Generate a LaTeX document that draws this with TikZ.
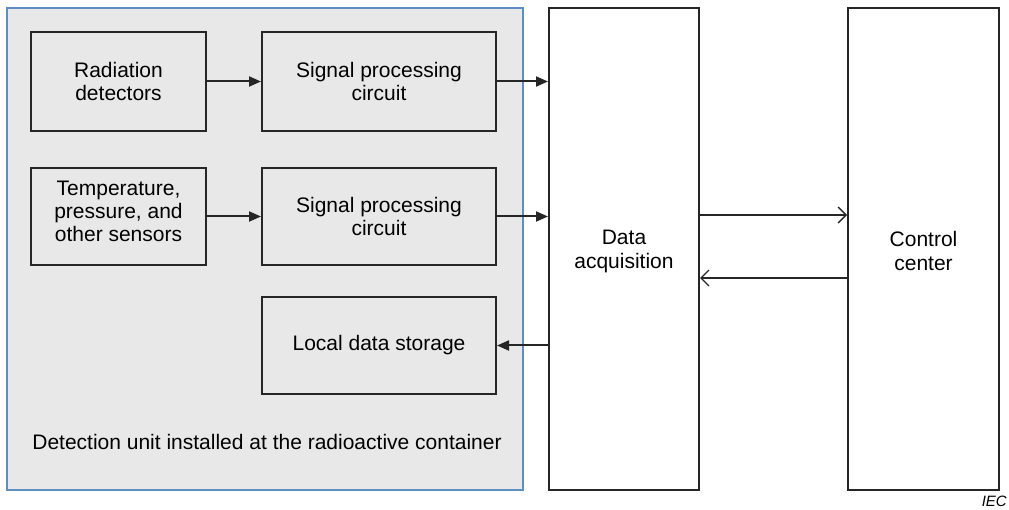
\documentclass[tikz,border=0pt]{standalone}
\usepackage{fontspec}
\setmainfont{Liberation Sans}
\usetikzlibrary{arrows.meta}
\definecolor{unitfill}{HTML}{E8E8E8}
\definecolor{unitline}{HTML}{5F8FC2}
\definecolor{boxline}{HTML}{262626}
\begin{document}
\begin{tikzpicture}[x=1pt,y=-1pt,
  blockbox/.style={draw=boxline,line width=2pt,align=center,
    font=\fontsize{21}{23}\selectfont,inner sep=0pt},
  solidarrow/.style={draw=boxline,line width=2pt,-{Triangle[length=12pt,width=10pt]}},
  openarrow/.style={draw=boxline,line width=1.8pt,-{Straight Barb[length=8pt,width=16pt,line width=1.3pt]}}]
  \useasboundingbox (0,0) rectangle (1009,510);
  % detection unit frame
  \draw[fill=unitfill,draw=unitline,line width=1.5pt] (7,8) rectangle (523,490);
  \node[anchor=center,font=\fontsize{21}{23}\selectfont] (unitlabel) at (267,442)
    {Detection unit installed at the radioactive container};
  % blocks inside the unit
  \node[blockbox,fill=unitfill,minimum width=175pt,minimum height=99pt] (rad) at (118.5,81.5)
    {Radiation\\detectors};
  \node[blockbox,fill=unitfill,minimum width=234pt,minimum height=99pt] (sp1) at (379,81.5)
    {Signal processing\\circuit};
  \node[blockbox,fill=unitfill,minimum width=175pt,minimum height=97pt] (temp) at (118.5,216.5) {};
  \node[align=center,font=\fontsize{21}{23}\selectfont,inner sep=0pt] (templabel) at (118.5,211)
    {Temperature,\\pressure, and\\other sensors};
  \node[blockbox,fill=unitfill,minimum width=234pt,minimum height=97pt] (sp2) at (379,216.5)
    {Signal processing\\circuit};
  \node[blockbox,fill=unitfill,minimum width=234pt,minimum height=97pt] (store) at (379,345.5)
    {Local data storage};
  % outer blocks
  \node[blockbox,fill=white,minimum width=150pt,minimum height=482pt] (daq) at (624,249) {};
  \node[align=center,font=\fontsize{21}{24}\selectfont,inner sep=0pt] (daqlabel) at (624,251)
    {Data\\acquisition};
  \node[blockbox,fill=white,minimum width=151pt,minimum height=482pt] (ctrl) at (923.5,249) {};
  \node[align=center,font=\fontsize{21}{24}\selectfont,inner sep=0pt] (ctrllabel) at (923.5,251)
    {Control\\center};
  % connectors
  \draw[solidarrow] (rad.east) -- (sp1.west);
  \draw[solidarrow] (temp.east) -- (sp2.west);
  \draw[solidarrow] (sp1.east) -- (sp1.east -| daq.west);
  \draw[solidarrow] (sp2.east) -- (sp2.east -| daq.west);
  \draw[solidarrow] (store.east -| daq.west) -- (store.east);
  \draw[openarrow] ([yshift=34pt]daq.east) -- ([yshift=34pt]ctrl.west);
  \draw[openarrow] ([yshift=-29pt]ctrl.west) -- ([yshift=-29pt]daq.east);
  % mark
  \node[anchor=east,font=\fontsize{15}{17}\selectfont\itshape,inner sep=0pt] (iec) at (1007,501) {IEC};
\end{tikzpicture}
\end{document}
